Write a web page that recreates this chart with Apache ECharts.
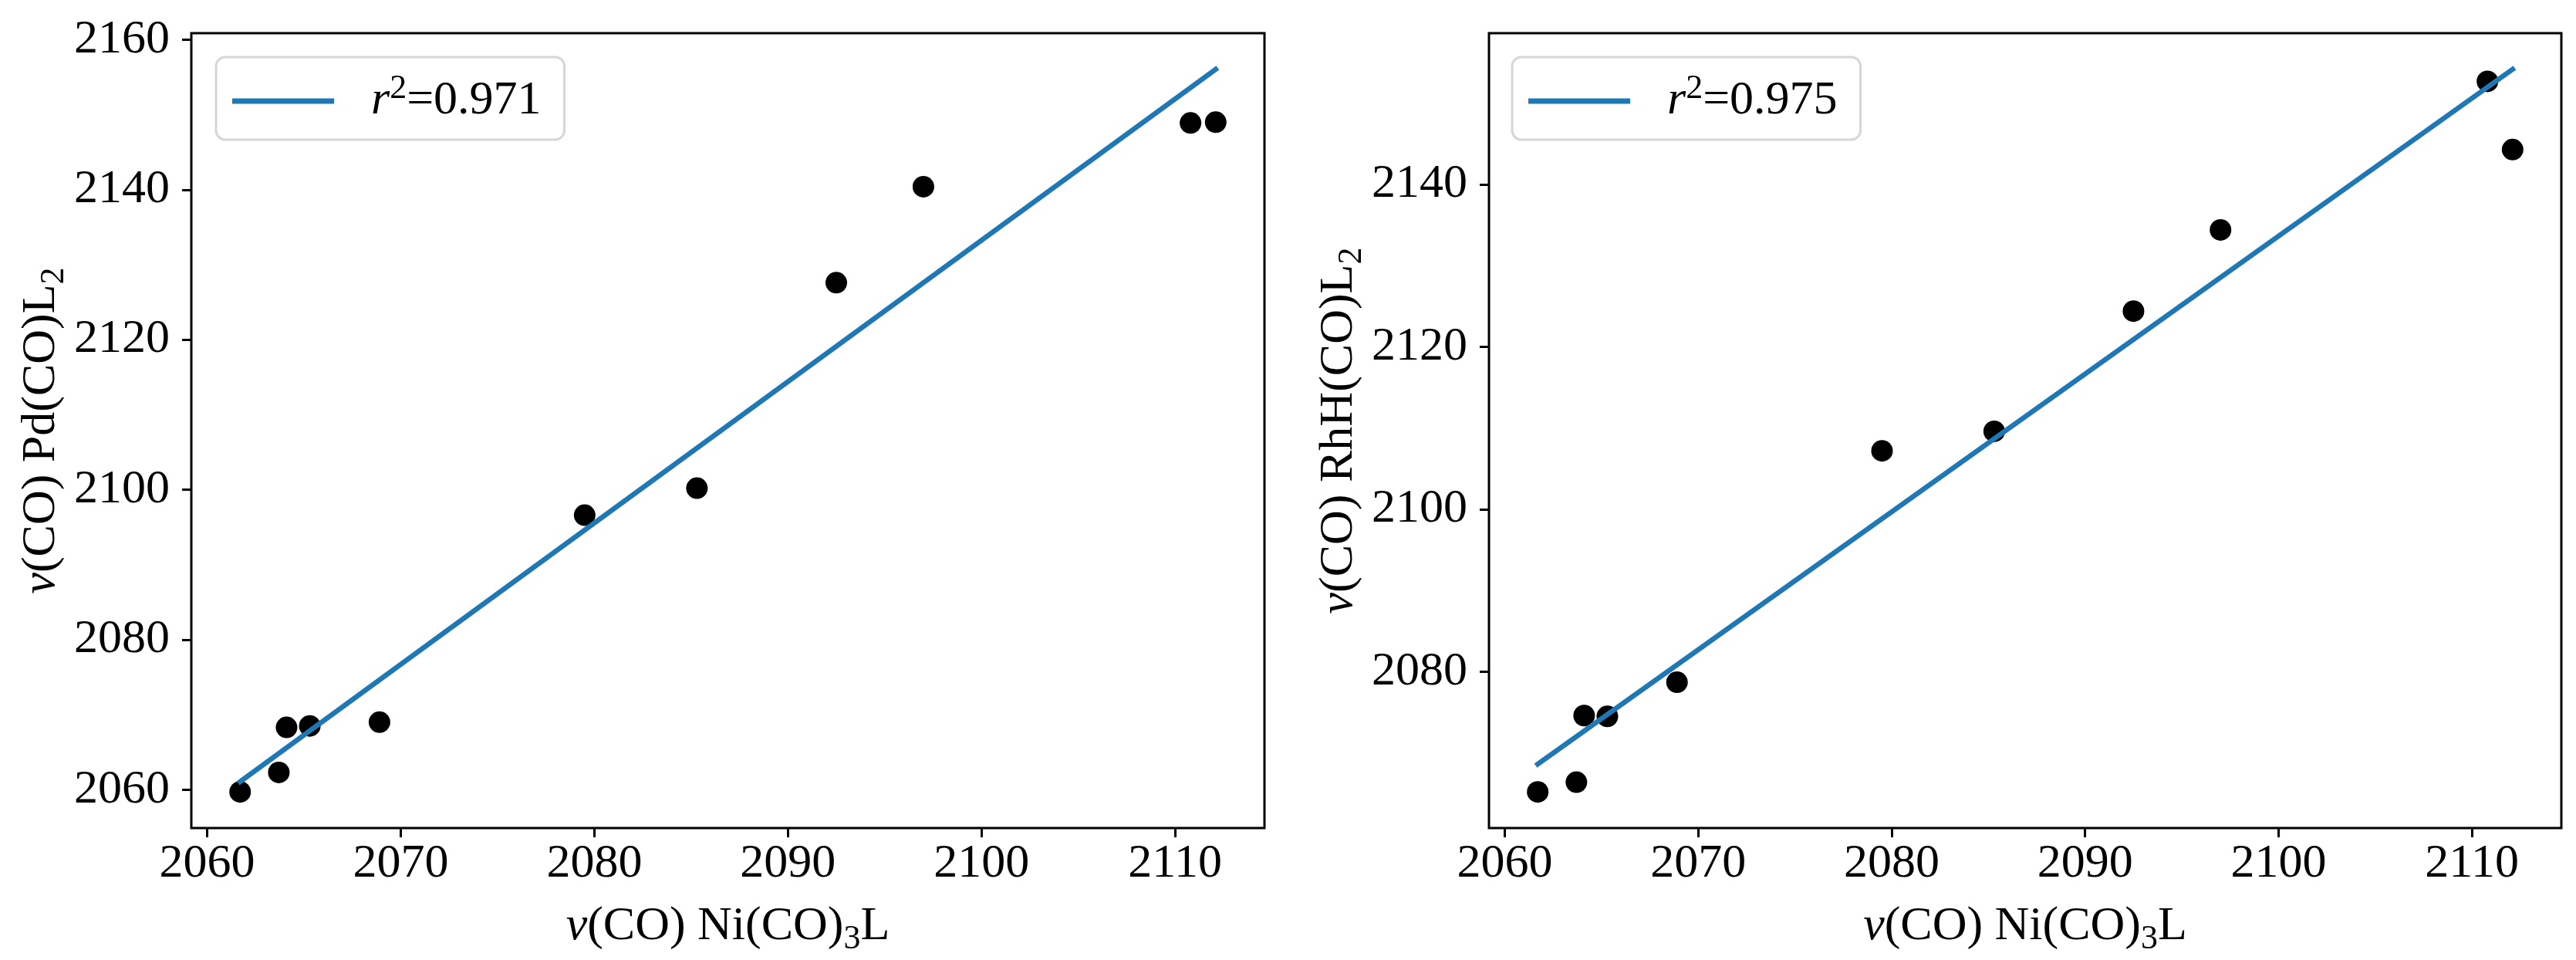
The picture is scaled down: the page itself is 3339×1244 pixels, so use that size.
<!DOCTYPE html>
<html>
<head>
<meta charset="utf-8">
<script src="https://cdn.jsdelivr.net/npm/echarts@6/dist/echarts.min.js"></script>
<style>
html,body{margin:0;padding:0;background:#fff;}
#chart{width:3339px;height:1244px;}
</style>
</head>
<body>
<div id="chart"></div>
<script>
// ---- data ----
const niCO = [2061.7, 2063.7, 2064.1, 2065.3, 2068.9, 2079.5, 2085.3, 2092.5, 2097.0, 2110.8, 2112.1];
const pdCO = [2059.7, 2062.3, 2068.3, 2068.5, 2069.0, 2096.6, 2100.2, 2127.6, 2140.4, 2148.9, 2149.0];
const rhCO = [2065.2, 2066.4, 2074.6, 2074.5, 2078.7, 2107.2, 2109.6, 2124.4, 2134.4, 2152.7, 2144.3];
const xTicks = [2060, 2070, 2080, 2090, 2100, 2110];
const pdTicks = [2060, 2080, 2100, 2120, 2140, 2160];
const rhTicks = [2080, 2100, 2120, 2140];
const pdR2 = '0.971';
const rhR2 = '0.975';

const FONT = "'Liberation Serif','Times New Roman',serif";
const FS = 62;

function linFit(xs, ys) {
  const n = xs.length;
  const mx = xs.reduce((a, b) => a + b, 0) / n;
  const my = ys.reduce((a, b) => a + b, 0) / n;
  let sxy = 0, sxx = 0;
  for (let i = 0; i < n; i++) { sxy += (xs[i] - mx) * (ys[i] - my); sxx += (xs[i] - mx) ** 2; }
  const b = sxy / sxx, a = my - b * mx;
  const x0 = Math.min(...xs), x1 = Math.max(...xs);
  return [[x0, a + b * x0], [x1, a + b * x1]];
}
function pad(vals) {
  const lo = Math.min(...vals), hi = Math.max(...vals), r = hi - lo;
  return [lo - 0.05 * r, hi + 0.05 * r];
}
const pairs = (xs, ys) => xs.map((x, i) => [x, ys[i]]);

const pdFit = linFit(niCO, pdCO);
const rhFit = linFit(niCO, rhCO);
const xLim = pad(niCO);
const pdLim = pad(pdCO.concat(pdFit.map(p => p[1])));
const rhLim = pad(rhCO.concat(rhFit.map(p => p[1])));

const richBase = {
  i: { fontFamily: FONT, fontSize: FS, fontStyle: 'italic', color: '#000', lineHeight: 76 },
  t: { fontFamily: FONT, fontSize: FS, color: '#000', lineHeight: 76 },
  sub: { fontFamily: FONT, fontSize: 44, color: '#000', lineHeight: 44, verticalAlign: 'bottom' },
  sup: { fontFamily: FONT, fontSize: 44, color: '#000', lineHeight: 48, verticalAlign: 'top' },
  g: { width: 43 }
};
const nameStyle = { fontFamily: FONT, fontSize: FS, color: '#000', rich: richBase };

function xAxisDef(gi) {
  return {
    gridIndex: gi, type: 'value', min: xLim[0], max: xLim[1],
    axisLine: { show: false },
    axisTick: { show: true, inside: false, length: 12, lineStyle: { color: '#000', width: 3 }, customValues: xTicks },
    axisLabel: { customValues: xTicks, formatter: v => String(v), fontFamily: FONT, fontSize: FS, color: '#000', margin: 16 },
    splitLine: { show: false },
    name: '{i|ν}{t|(CO) Ni(CO)}{sub|3}{t|L}', nameLocation: 'middle', nameGap: 90,
    nameTextStyle: nameStyle
  };
}
function yAxisDef(gi, lim, ticks, label) {
  return {
    gridIndex: gi, type: 'value', min: lim[0], max: lim[1],
    axisLine: { show: false },
    axisTick: { show: true, inside: false, length: 12, lineStyle: { color: '#000', width: 3 }, customValues: ticks },
    axisLabel: { customValues: ticks, formatter: v => String(v), fontFamily: FONT, fontSize: FS, color: '#000', margin: 28 },
    splitLine: { show: false },
    name: label, nameLocation: 'middle', nameGap: 150,
    nameTextStyle: nameStyle
  };
}
function legendDef(left, seriesName, r2) {
  return {
    left: left, top: 74, orient: 'vertical',
    data: [seriesName],
    icon: 'rect', itemWidth: 132, itemHeight: 7,
    padding: [19, 30, 19, 21],
    borderColor: '#d6d6d6', borderWidth: 3, borderRadius: 12,
    backgroundColor: '#fff',
    formatter: () => '{g|}{i|r}{sup|2}{t|=' + r2 + '}',
    textStyle: { fontFamily: FONT, fontSize: FS, color: '#000', rich: richBase }
  };
}

const chart = echarts.init(document.getElementById('chart'), null, { renderer: 'canvas' });
chart.setOption({
  animation: false,
  backgroundColor: '#fff',
  grid: [
    { left: 248, top: 43, width: 1391, height: 1036, show: true, borderColor: '#000', borderWidth: 3 },
    { left: 1930, top: 43, width: 1390, height: 1036, show: true, borderColor: '#000', borderWidth: 3 }
  ],
  xAxis: [xAxisDef(0), xAxisDef(1)],
  yAxis: [
    yAxisDef(0, pdLim, pdTicks, '{i|ν}{t|(CO) Pd(CO)L}{sub|2}'),
    yAxisDef(1, rhLim, rhTicks, '{i|ν}{t|(CO) RhH(CO)L}{sub|2}')
  ],
  legend: [legendDef(280, 'pdfit', pdR2), legendDef(1960, 'rhfit', rhR2)],
  series: [
    { type: 'scatter', name: 'pd', xAxisIndex: 0, yAxisIndex: 0, data: pairs(niCO, pdCO), symbolSize: 28, itemStyle: { color: '#000', opacity: 1 }, z: 2 },
    { type: 'scatter', name: 'rh', xAxisIndex: 1, yAxisIndex: 1, data: pairs(niCO, rhCO), symbolSize: 28, itemStyle: { color: '#000', opacity: 1 }, z: 2 },
    { type: 'line', name: 'pdfit', xAxisIndex: 0, yAxisIndex: 0, data: pdFit, showSymbol: false, symbol: 'none',
      lineStyle: { color: '#1f77b4', width: 6.5, cap: 'square' }, itemStyle: { color: '#1f77b4' }, z: 3 },
    { type: 'line', name: 'rhfit', xAxisIndex: 1, yAxisIndex: 1, data: rhFit, showSymbol: false, symbol: 'none',
      lineStyle: { color: '#1f77b4', width: 6.5, cap: 'square' }, itemStyle: { color: '#1f77b4' }, z: 3 }
  ]
});
</script>
</body>
</html>
